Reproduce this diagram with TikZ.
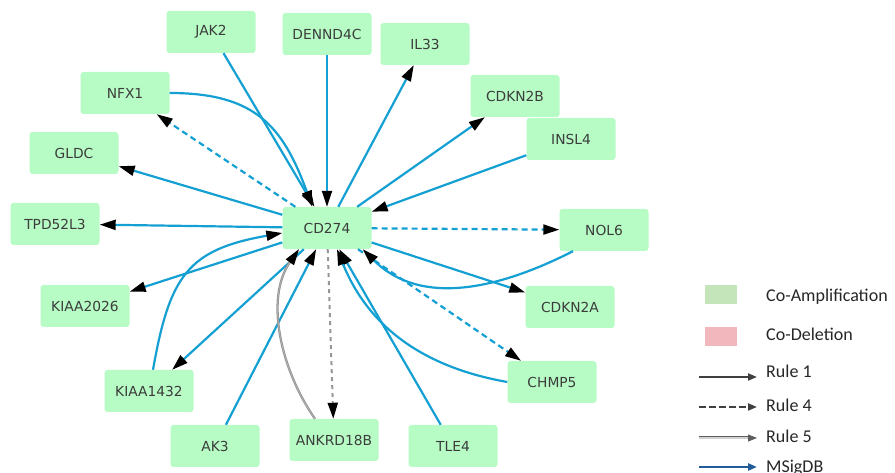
\documentclass[tikz,border=0pt]{standalone}
\usepackage{fontspec}
\setmainfont{DejaVu Sans}
\newfontfamily\legendfont{Carlito}
\usetikzlibrary{arrows.meta}

\definecolor{genefill}{RGB}{182,252,196}
\definecolor{genetext}{RGB}{60,60,60}
\definecolor{msig}{RGB}{20,160,210}
\definecolor{msigdark}{RGB}{31,92,153}
\definecolor{ampfill}{RGB}{196,229,186}
\definecolor{delfill}{RGB}{242,182,189}
\definecolor{rulegray}{RGB}{64,64,64}
\definecolor{linkgray}{RGB}{150,150,150}

\tikzset{
  gene/.style={rectangle, rounded corners=3pt, fill=genefill, minimum width=89pt,
    minimum height=42pt, inner sep=0pt, text=genetext,
    font=\fontsize{13.8}{16}\selectfont},
  bigtip/.style={-{Triangle[length=16pt,width=10pt,color=black]}},
  blueedge/.style={draw=msig, line width=2.2pt, bigtip},
  bluedash/.style={blueedge, dash pattern=on 6pt off 4pt},
  graydash/.style={draw=linkgray, line width=2pt, dash pattern=on 4pt off 4pt, bigtip},
  graydouble/.style={draw=linkgray, double=gray!55, double distance=0.5pt,
    line width=0.9pt, bigtip},
  swatch/.style={rectangle, minimum width=32pt, minimum height=19pt, inner sep=0pt},
  legendtext/.style={anchor=base west, inner sep=0pt, text=black!85,
    font=\legendfont\fontsize{18}{20}\selectfont},
  keytip/.style={-{Triangle[length=9pt,width=7pt]}},
}

\begin{document}
\begin{tikzpicture}[x=1pt,y=1pt]
\useasboundingbox (0,0) rectangle (895,473);

% gene nodes
\node[gene] (CD274)    at (327,245) {CD274};
\node[gene] (JAK2)     at (211,441) {JAK2};
\node[gene] (DENND4C)  at (327,439) {DENND4C};
\node[gene] (IL33)     at (425,429) {IL33};
\node[gene] (NFX1)     at (125,380) {NFX1};
\node[gene] (CDKN2B)   at (515,377) {CDKN2B};
\node[gene] (INSL4)    at (571,334) {INSL4};
\node[gene] (GLDC)     at (74,320)  {GLDC};
\node[gene] (TPD52L3)  at (55,249)  {TPD52L3};
\node[gene] (NOL6)     at (604,243) {NOL6};
\node[gene] (KIAA2026) at (85,167)  {KIAA2026};
\node[gene] (CDKN2A)   at (570,166) {CDKN2A};
\node[gene] (CHMP5)    at (552,91)  {CHMP5};
\node[gene] (KIAA1432) at (149,82)  {KIAA1432};
\node[gene] (AK3)      at (215,27)  {AK3};
\node[gene] (ANKRD18B) at (334,33)  {ANKRD18B};
\node[gene] (TLE4)     at (453,27)  {TLE4};

% links around CD274
\draw[blueedge] (JAK2) -- (CD274);
\draw[blueedge] (NFX1.east) to[out=0,in=110,looseness=1.2] ([xshift=30pt]CD274.north west);
\draw[bluedash] (CD274) -- (NFX1);
\draw[blueedge] (DENND4C) -- (CD274);
\draw[blueedge] (CD274) -- (IL33);
\draw[blueedge] (CD274) -- (CDKN2B);
\draw[blueedge] (INSL4) -- (CD274);
\draw[blueedge] (CD274) -- (GLDC);
\draw[blueedge] (CD274) -- (TPD52L3);
\draw[blueedge] ([xshift=4pt]KIAA1432.north) to[out=80,in=190,looseness=1.3] ([yshift=-5pt]CD274.west);
\draw[blueedge] (CD274) -- (KIAA2026);
\draw[blueedge] (CD274) -- (KIAA1432);
\draw[blueedge] (AK3) -- (CD274);
\draw[graydouble] ([xshift=-19pt]ANKRD18B.north) to[out=125,in=235,looseness=0.9] ([xshift=-28pt]CD274.south);
\draw[graydash] (CD274) -- (ANKRD18B);
\draw[blueedge] (TLE4) -- (CD274);
\draw[blueedge] (CHMP5.west) to[out=170,in=292] ([xshift=10pt]CD274.south);
\draw[bluedash] (CD274) -- (CHMP5);
\draw[blueedge] ([xshift=-31pt]NOL6.south) to[out=207,in=315] ([xshift=-9pt]CD274.south east);
\draw[bluedash] (CD274) -- (NOL6);
\draw[blueedge] (CD274) -- (CDKN2A);

% legend
\node[swatch, fill=ampfill] (ampkey) at (721,178.5) {};
\node[legendtext] (amplabel) at (766,171) {Co-Amplification};
\node[swatch, fill=delfill] (delkey) at (721,136.5) {};
\node[legendtext] (dellabel) at (766,132) {Co-Deletion};

\node[legendtext] (ruleonelabel) at (766,95) {Rule 1};
\coordinate (ruleonea) at (699,96);
\coordinate (ruleoneb) at (757,96);
\draw[draw=rulegray, line width=2pt, keytip] (ruleonea) -- (ruleoneb);

\node[legendtext] (rulefourlabel) at (766,61) {Rule 4};
\coordinate (rulefoura) at (699,66);
\coordinate (rulefourb) at (757,66);
\draw[draw=rulegray, line width=2pt, dash pattern=on 7pt off 3pt, keytip] (rulefoura) -- (rulefourb);

\node[legendtext] (rulefivelabel) at (766,30) {Rule 5};
\coordinate (rulefivea) at (699,35);
\coordinate (rulefiveb) at (757,35);
\draw[draw=rulegray!85, double=gray!35, double distance=1.2pt, line width=0.9pt, keytip] (rulefivea) -- (rulefiveb);

\node[legendtext] (msiglabel) at (766,0) {MSigDB};
\coordinate (msiga) at (699,6);
\coordinate (msigb) at (757,6);
\draw[draw=msigdark, line width=2.5pt, keytip] (msiga) -- (msigb);
\end{tikzpicture}
\end{document}
